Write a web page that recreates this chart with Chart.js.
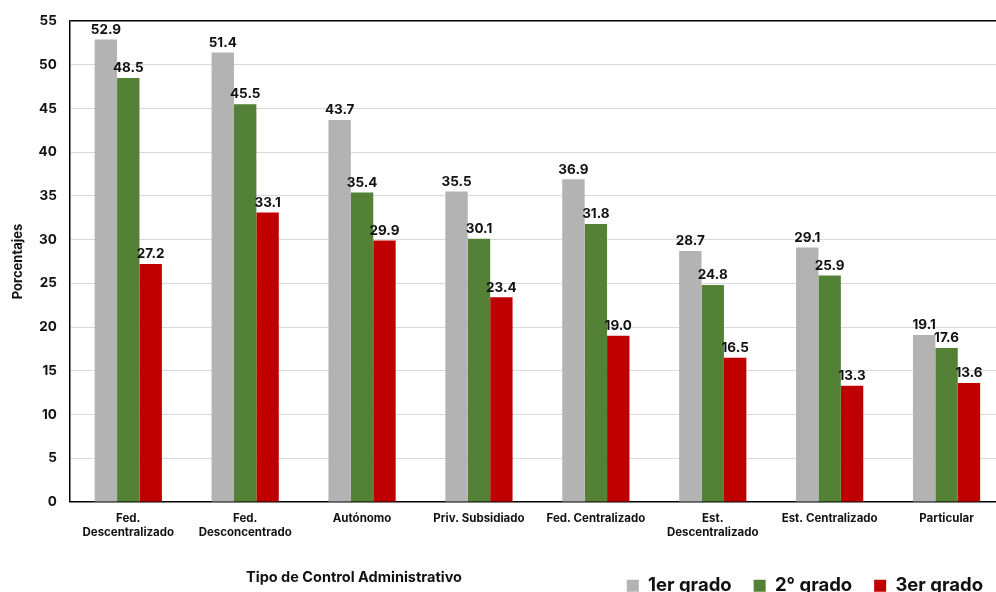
<!DOCTYPE html>
<html><head><meta charset="utf-8">
<script src="https://cdn.jsdelivr.net/npm/chart.js@4.4.1/dist/chart.umd.min.js"></script>
<style>
html,body{margin:0;padding:0;background:#fff;overflow:hidden;width:996px;height:592px;}
#wrap{position:absolute;left:0;top:0;width:1010px;height:605px;}
</style></head>
<body>
<div id="wrap"><canvas id="c" width="1010" height="605"></canvas></div>
<script>
const categories = [["Fed.","Descentralizado"],["Fed.","Desconcentrado"],"Autónomo","Priv. Subsidiado","Fed. Centralizado",["Est.","Descentralizado"],"Est. Centralizado","Particular"];
const seriesNames = ["1er grado","2° grado","3er grado"];
const grado1 = [52.9,51.4,43.7,35.5,36.9,28.7,29.1,19.1];
const grado2 = [48.5,45.5,35.4,30.1,31.8,24.8,25.9,17.6];
const grado3 = [27.2,33.1,29.9,23.4,19.0,16.5,13.3,13.6];
const yTicks = [0,5,10,15,20,25,30,35,40,45,50,55];
const xTitle = "Tipo de Control Administrativo";
const yTitle = "Porcentajes";

const FONT = "Inter, 'DejaVu Sans', sans-serif";
const colors = ["#b3b3b3","#538135","#c00000"];

const valueLabels = {
  id:'valueLabels',
  afterDatasetsDraw(chart){
    const ctx = chart.ctx;
    ctx.save();
    ctx.font = "bold 13.5px " + FONT;
    ctx.fillStyle = "#111";
    ctx.textAlign = "center";
    ctx.textBaseline = "bottom";
    chart.data.datasets.forEach((ds,i)=>{
      chart.getDatasetMeta(i).data.forEach((bar,j)=>{
        ctx.fillText(ds.data[j].toFixed(1), bar.x, bar.y - 3);
      });
    });
    ctx.restore();
  }
};
const xTitlePlugin = {
  id:'xTitlePlugin',
  afterDraw(chart){
    const ctx = chart.ctx;
    ctx.save();
    ctx.font = "bold 14.5px " + FONT;
    ctx.fillStyle = "#111";
    ctx.textAlign = "center";
    ctx.textBaseline = "middle";
    ctx.fillText(xTitle, 354, 578);
    ctx.restore();
  }
};

new Chart(document.getElementById('c'), {
  type:'bar',
  data:{
    labels: categories,
    datasets:[
      {label:seriesNames[0], data:grado1, backgroundColor:colors[0]},
      {label:seriesNames[1], data:grado2, backgroundColor:colors[1]},
      {label:seriesNames[2], data:grado3, backgroundColor:colors[2]}
    ]
  },
  options:{
    responsive:false,
    animation:false,
    layout:{autoPadding:false, padding:{top:12,right:5,left:10,bottom:0}},
    datasets:{bar:{categoryPercentage:0.575, barPercentage:1.0}},
    plugins:{
      legend:{
        position:'bottom', align:'end',
        labels:{font:{family:FONT, size:18.5, weight:'bold'}, color:'#111', boxWidth:12, boxHeight:12, padding:22}
      },
      tooltip:{enabled:false}
    },
    scales:{
      x:{
        grid:{display:false},
        border:{display:true,color:'#000',width:1.5},
        ticks:{font:{family:FONT,size:11.5,weight:'bold'},color:'#111',maxRotation:0,autoSkip:false,padding:2},
        afterFit(scale){ scale.height += 13; }
      },
      y:{
        min:0,max:55,
        afterBuildTicks(axis){ axis.ticks = yTicks.map(v=>({value:v})); },
        grid:{color:(c)=> c.tick && c.tick.value===55 ? '#000' : '#d9d9d9', lineWidth:(c)=> c.tick && c.tick.value===55 ? 1.5 : 1, drawTicks:false},
        border:{display:true,color:'#000',width:1.5},
        ticks:{font:{family:FONT,size:13.5,weight:'bold'},color:'#111',padding:13},
        title:{display:true,text:yTitle,font:{family:FONT,size:13,weight:'bold'},color:'#111',padding:{top:0,bottom:0}}
      }
    }
  },
  plugins:[valueLabels,xTitlePlugin]
});
</script>
</body></html>
